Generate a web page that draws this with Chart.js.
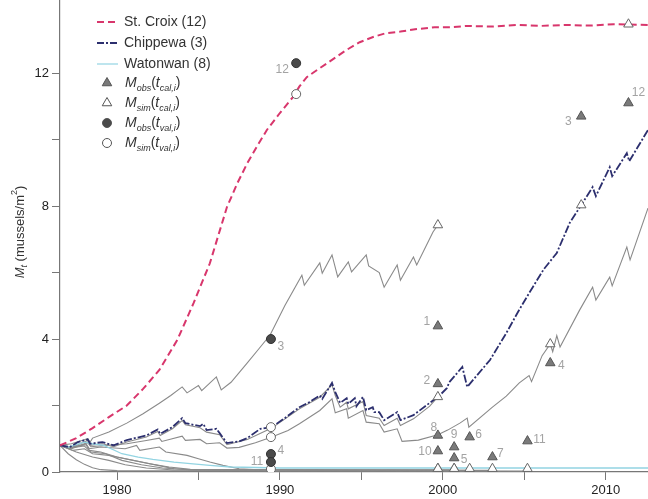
<!DOCTYPE html>
<html>
<head>
<meta charset="utf-8">
<script src="https://cdn.jsdelivr.net/npm/chart.js@4.4.1/dist/chart.umd.min.js"></script>
<style>
  body { margin: 0; background: #fff; }
  canvas { display: block; }
</style>
</head>
<body>
<canvas id="musselChart" width="648" height="499"></canvas>
<script>
// simulated densities, [year, mussels/m2]
const stCroix = [[1976.5,0.8],[1977.5,1.02],[1978.5,1.32],[1979.5,1.65],[1980.6,2.0],[1981.6,2.5],[1982.6,3.07],[1983.7,3.97],[1984.7,5.08],[1985.7,6.28],[1986.75,7.97],[1987.4,8.7],[1988.0,9.29],[1988.6,9.8],[1989.2,10.29],[1990.0,10.8],[1990.8,11.28],[1991.2,11.6],[1991.65,11.88],[1992.3,12.1],[1992.9,12.3],[1993.5,12.5],[1994.1,12.7],[1994.9,12.93],[1995.8,13.1],[1996.5,13.2],[1997.4,13.25],[1998.3,13.32],[1999.5,13.38],[2000.5,13.38],[2001.5,13.42],[2003,13.4],[2004.5,13.45],[2006,13.42],[2007.5,13.45],[2009,13.43],[2010.5,13.47],[2012.6,13.45]];
const chippewa = [[1976.5,0.8],[1977.1,0.75],[1977.6,0.9],[1978.2,0.98],[1978.35,0.85],[1979.1,0.9],[1979.8,0.8],[1980.6,0.96],[1981.8,1.1],[1982.5,1.28],[1982.65,1.15],[1983.4,1.35],[1984.0,1.62],[1984.2,1.47],[1985.1,1.38],[1985.3,1.45],[1985.5,1.26],[1986.1,1.3],[1986.3,1.17],[1986.75,0.87],[1987.5,0.92],[1988.0,1.02],[1988.8,1.3],[1989.5,1.35],[1990.3,1.62],[1991.2,1.95],[1991.8,2.1],[1992.45,2.3],[1992.6,2.2],[1993.2,2.68],[1993.4,2.4],[1993.7,2.08],[1994.1,2.22],[1994.2,2.05],[1994.6,2.22],[1994.7,1.98],[1995.1,2.26],[1995.3,1.86],[1995.7,1.95],[1995.8,1.8],[1996.1,1.8],[1996.4,1.56],[1997.2,1.8],[1997.4,1.56],[1998.2,1.71],[1999.2,2.08],[1999.8,2.3],[2000.25,2.52],[2000.4,2.7],[2001.2,3.16],[2001.5,2.56],[2002.9,3.37],[2003.9,4.18],[2004.6,4.8],[2005.3,5.38],[2006.2,6.1],[2007.0,6.59],[2007.8,7.5],[2008.5,8.03],[2009.2,8.57],[2009.4,8.3],[2010.25,9.17],[2010.4,8.9],[2011.3,9.59],[2011.45,9.35],[2012.6,10.29]];
const watonwan = [[1976.5,0.8],[1977,0.75],[1978,0.9],[1978.5,0.85],[1979.2,0.8],[1980.3,0.55],[1981.3,0.45],[1982.2,0.38],[1983.5,0.3],[1984.5,0.25],[1985.7,0.2],[1987,0.15],[1990,0.12],[2012.6,0.12]];
const site1 = [[1976.5,0.8],[1977.2,0.85],[1978.2,1.0],[1978.35,0.9],[1978.5,1.02],[1979.5,1.2],[1980.6,1.47],[1981.6,1.75],[1982.6,2.07],[1983.3,2.3],[1984.0,2.56],[1984.3,2.38],[1985.0,2.6],[1985.2,2.45],[1986.1,2.86],[1986.4,2.47],[1987.0,2.7],[1988.0,3.28],[1988.7,3.7],[1989.4,4.12],[1990.3,5.0],[1991.35,5.92],[1991.5,5.62],[1992.45,6.29],[1992.6,5.98],[1993.2,6.53],[1993.55,5.87],[1994.2,6.32],[1994.4,6.02],[1995.3,6.53],[1995.45,6.2],[1996.1,6.0],[1996.4,5.56],[1997.2,6.23],[1997.4,5.77],[1998.2,6.47],[1998.4,6.23],[1999.4,7.22],[1999.7,7.43]];
const site2 = [[1976.5,0.8],[1977.1,0.72],[1978.2,0.95],[1978.35,0.8],[1979.1,0.85],[1979.8,0.76],[1980.6,0.9],[1981.8,1.05],[1982.5,1.22],[1982.65,1.1],[1983.4,1.3],[1984.0,1.55],[1984.2,1.42],[1985.1,1.33],[1985.5,1.2],[1986.3,1.12],[1986.75,0.82],[1988.0,0.98],[1989.5,1.32],[1991.2,1.9],[1992.45,2.25],[1993.2,2.62],[1993.4,2.3],[1993.7,1.95],[1994.1,2.1],[1994.2,1.9],[1995.1,2.12],[1995.3,1.7],[1996.1,1.62],[1996.4,1.4],[1997.2,1.62],[1997.4,1.4],[1998.2,1.6],[1999.2,1.98],[1999.7,2.26]];
const site4 = [[1976.5,0.8],[1977.2,0.72],[1978.2,0.88],[1978.4,0.76],[1979.3,0.8],[1980.6,0.85],[1981.8,0.95],[1982.6,1.02],[1982.75,0.92],[1984.0,1.08],[1984.2,0.95],[1985.1,0.98],[1985.5,0.85],[1986.3,0.88],[1986.75,0.72],[1987.5,0.74],[1988.5,0.88],[1989.5,1.05],[1990.5,1.25],[1991.2,1.45],[1992.45,1.85],[1993.2,2.2],[1993.4,1.78],[1994.1,1.9],[1994.2,1.62],[1995.1,1.85],[1995.3,1.5],[1996.1,1.45],[1996.4,1.2],[1997.2,1.3],[1997.5,0.92],[1998.5,0.96],[1999.7,1.12],[2000.3,1.26],[2001.05,1.47],[2001.5,1.62],[2001.6,1.35],[2003.05,1.95],[2003.9,2.28],[2004.7,2.68],[2005.3,2.9],[2005.45,2.72],[2006.1,3.5],[2006.6,3.85],[2006.75,3.62],[2007.0,4.1],[2007.2,3.76],[2008.4,4.87],[2009.2,5.56],[2009.4,5.17],[2010.25,5.86],[2010.4,5.6],[2011.3,6.77],[2011.5,6.38],[2012.6,7.94]];
const site5 = [[1976.5,0.8],[1977.2,0.7],[1978.1,0.85],[1978.3,0.7],[1979,0.75],[1980.5,0.7],[1981.2,0.8],[1981.4,0.65],[1982.6,0.75],[1983,0.6],[1984.3,0.5],[1985,0.4],[1985.7,0.3],[1986.5,0.2],[1987.5,0.1],[1989,0.06],[2000.7,0.06]];
const site6 = [[1976.5,0.8],[1977.3,0.65],[1978,0.7],[1978.5,0.55],[1979.5,0.5],[1980.5,0.4],[1981.5,0.3],[1982.5,0.2],[1983.5,0.1],[1985,0.06],[2001.65,0.05]];
const site7 = [[1976.5,0.8],[1977,0.72],[1978,0.78],[1978.4,0.6],[1979.3,0.55],[1980.3,0.35],[1981.5,0.22],[1982.8,0.12],[1984.5,0.06],[2003.05,0.05]];
const site9 = [[1976.5,0.8],[1977.2,0.75],[1978.1,0.82],[1978.3,0.65],[1979,0.6],[1980,0.45],[1981,0.35],[1982,0.25],[1983.2,0.15],[1984.5,0.08],[2000.7,0.06]];
const site10 = [[1976.5,0.8],[1977.5,0.6],[1978.5,0.45],[1979.5,0.35],[1980.5,0.22],[1981.8,0.12],[1983.5,0.06],[1999.7,0.05]];
const site11 = [[1976.5,0.8],[1977,0.55],[1977.5,0.37],[1978,0.23],[1978.5,0.13],[1979,0.07],[1980,0.04],[2005.2,0.03]];

// calibration (sites 1..12) and validation (sites 3, 4, 11, 12) points
const calSites = ['1','2','3','4','5','6','7','8','9','10','11','12'];
const calYears = [1999.7, 1999.7, 2008.5, 2006.6, 2000.7, 2001.65, 2003.05, 1999.7, 2000.7, 1999.7, 2005.2, 2011.4];
const obsCal = [4.39, 2.65, 10.7, 3.28, 0.42, 1.05, 0.45, 1.1, 0.75, 0.63, 0.93, 11.1];
const simCal = [7.43, 2.26, 8.03, 3.85, 0.1, 0.1, 0.1, 0.1, 0.1, 0.1, 0.1, 13.47];
const valSites = ['3','4','11','12'];
const valYears = [1989.45, 1989.45, 1989.45, 1991.0];
const obsVal = [4.0, 0.54, 0.3, 12.3];
const simVal = [1.35, 1.05, 0.09, 11.37];

const yTicks = [0, 4, 8, 12];
const xTicks = [1980, 1990, 2000, 2010];

function toXY(pts) { return pts.map(p => ({ x: p[0], y: p[1] })); }
function zip(xs, ys) { return xs.map((x, i) => ({ x: x, y: ys[i] })); }

const FONT = '"Liberation Sans", Arial, sans-serif';
const GREY = '#8a8a8a';

function greyLine(pts) {
    return { data: toXY(pts), showLine: true, borderColor: GREY, borderWidth: 1.1, pointRadius: 0, order: 5 };
}

// offsets (px) for the grey site numbers
const calLabelOff = [[-11,-4],[-11,-3],[-13,5],[11,3],[10,2],[9,-2],[8,-3],[-4,-8],[0,-12],[-13,1],[12,-1],[10,-10]];
const valLabelOff = [[10,8],[10,-3],[-14,0],[-14,7]];

const siteLabels = {
    id: 'siteLabels',
    afterDatasetsDraw(chart) {
        const ctx = chart.ctx;
        ctx.save();
        ctx.font = '12px ' + FONT;
        ctx.fillStyle = '#a3a3a3';
        ctx.textAlign = 'center';
        ctx.textBaseline = 'middle';
        chart.getDatasetMeta(0).data.forEach((pt, i) => {
            ctx.fillText(calSites[i], pt.x + calLabelOff[i][0], pt.y + calLabelOff[i][1]);
        });
        chart.getDatasetMeta(2).data.forEach((pt, i) => {
            ctx.fillText(valSites[i], pt.x + valLabelOff[i][0], pt.y + valLabelOff[i][1]);
        });
        ctx.restore();
    }
};

// draws a run of [text, font, dy] pieces left to right
function drawRuns(ctx, runs, x, y) {
    runs.forEach(r => {
        ctx.font = r[1];
        ctx.fillText(r[0], x, y + r[2]);
        x += ctx.measureText(r[0]).width;
    });
    return x;
}
function runsWidth(ctx, runs) {
    let w = 0;
    runs.forEach(r => { ctx.font = r[1]; w += ctx.measureText(r[0]).width; });
    return w;
}

const legendAndTitle = {
    id: 'legendAndTitle',
    afterDraw(chart) {
        const ctx = chart.ctx;
        ctx.save();
        ctx.fillStyle = '#333';
        ctx.textBaseline = 'middle';
        ctx.textAlign = 'left';
        const big = '14px ' + FONT, it = 'italic 14px ' + FONT, sub = 'italic 9px ' + FONT;

        // line entries
        const lines = [
            ['St. Croix (12)', '#d8366c', [7, 4], 22, 2],
            ['Chippewa (3)', '#2c2f6e', [7, 2, 2, 2], 43, 2],
            ['Watonwan (8)', '#93d4e2', [], 64, 1.2]
        ];
        lines.forEach(l => {
            ctx.beginPath();
            ctx.setLineDash(l[2]);
            ctx.strokeStyle = l[1];
            ctx.lineWidth = l[4];
            ctx.moveTo(97, l[3]);
            ctx.lineTo(118, l[3]);
            ctx.stroke();
            ctx.setLineDash([]);
            ctx.font = big;
            ctx.fillText(l[0], 124, l[3]);
        });

        // marker entries
        const marks = [
            ['obs', 'cal,i', 'triangle', '#7a7a7a', 83],
            ['sim', 'cal,i', 'triangle', '#ffffff', 103],
            ['obs', 'val,i', 'circle', '#4a4a4a', 123],
            ['sim', 'val,i', 'circle', '#ffffff', 143]
        ];
        marks.forEach(m => {
            ctx.fillStyle = m[3];
            ctx.strokeStyle = '#555';
            ctx.lineWidth = 1;
            Chart.helpers.drawPoint(ctx, { pointStyle: m[2], radius: m[2] === 'triangle' ? 5.5 : 4.5, borderWidth: 1 }, 107, m[4]);
            ctx.fillStyle = '#333';
            drawRuns(ctx, [['M', it, 0], [m[0], sub, 5], ['(', big, 0], ['t', it, 0], [m[1], sub, 5], [')', big, 0]], 125, m[4]);
        });

        // y axis title: M_t (mussels/m2)
        const runs = [['M', 'italic 13px ' + FONT, 0], ['t', 'italic 9px ' + FONT, 4], [' (mussels/m', '13px ' + FONT, 0], ['2', '9px ' + FONT, -5], [')', '13px ' + FONT, 0]];
        ctx.translate(20, 232);
        ctx.rotate(-Math.PI / 2);
        const w = runsWidth(ctx, runs);
        drawRuns(ctx, runs, -w / 2, 0);
        ctx.restore();
    }
};

const ctx = document.getElementById('musselChart').getContext('2d');
new Chart(ctx, {
    type: 'scatter',
    data: {
        datasets: [
            { label: 'obs cal', data: zip(calYears, obsCal), pointStyle: 'triangle', pointRadius: 5.5, backgroundColor: '#7a7a7a', borderColor: '#555', borderWidth: 1, order: 0 },
            { label: 'sim cal', data: zip(calYears, simCal), pointStyle: 'triangle', pointRadius: 5.5, backgroundColor: '#fff', borderColor: '#666', borderWidth: 1, order: 0 },
            { label: 'obs val', data: zip(valYears, obsVal), pointStyle: 'circle', pointRadius: 4.5, backgroundColor: '#4a4a4a', borderColor: '#333', borderWidth: 1, order: 0 },
            { label: 'sim val', data: zip(valYears, simVal), pointStyle: 'circle', pointRadius: 4.5, backgroundColor: '#fff', borderColor: '#666', borderWidth: 1, order: 0 },
            { label: 'St. Croix (12)', data: toXY(stCroix), showLine: true, borderColor: '#d8366c', borderWidth: 2, borderDash: [7, 4], pointRadius: 0, order: 1 },
            { label: 'Chippewa (3)', data: toXY(chippewa), showLine: true, borderColor: '#2c2f6e', borderWidth: 1.8, borderDash: [8, 2, 2, 2], pointRadius: 0, order: 2 },
            { label: 'Watonwan (8)', data: toXY(watonwan), showLine: true, borderColor: '#93d4e2', borderWidth: 1.3, pointRadius: 0, order: 3 },
            greyLine(site1), greyLine(site2), greyLine(site4), greyLine(site5),
            greyLine(site6), greyLine(site7), greyLine(site9), greyLine(site10), greyLine(site11)
        ]
    },
    options: {
        responsive: false,
        animation: false,
        devicePixelRatio: 1,
        layout: { padding: 0, autoPadding: false },
        plugins: { legend: { display: false }, tooltip: { enabled: false } },
        scales: {
            x: {
                type: 'linear',
                min: 1976.5,
                max: 2012.6,
                afterFit: s => { s.height = 27; s.paddingLeft = 0; s.paddingRight = 0; },
                border: { color: '#777', width: 1.2 },
                grid: { drawOnChartArea: false, tickLength: 8, tickColor: '#777' },
                ticks: {
                    stepSize: 5, includeBounds: false, autoSkip: false, maxRotation: 0,
                    color: '#222', font: { size: 13, family: FONT },
                    callback: v => xTicks.includes(v) ? String(v) : ''
                }
            },
            y: {
                min: 0,
                max: 14.2,
                afterFit: s => { s.width = 60; s.paddingTop = 0; s.paddingBottom = 0; },
                border: { color: '#777', width: 1.2 },
                grid: { drawOnChartArea: false, tickLength: 8, tickColor: c => (c.tick && c.tick.value > 12) ? 'rgba(0,0,0,0)' : '#777' },
                ticks: {
                    stepSize: 2, includeBounds: false, autoSkip: false,
                    color: '#222', font: { size: 13, family: FONT },
                    callback: v => yTicks.includes(v) ? String(v) : ''
                }
            }
        }
    },
    plugins: [siteLabels, legendAndTitle]
});
</script>
</body>
</html>
